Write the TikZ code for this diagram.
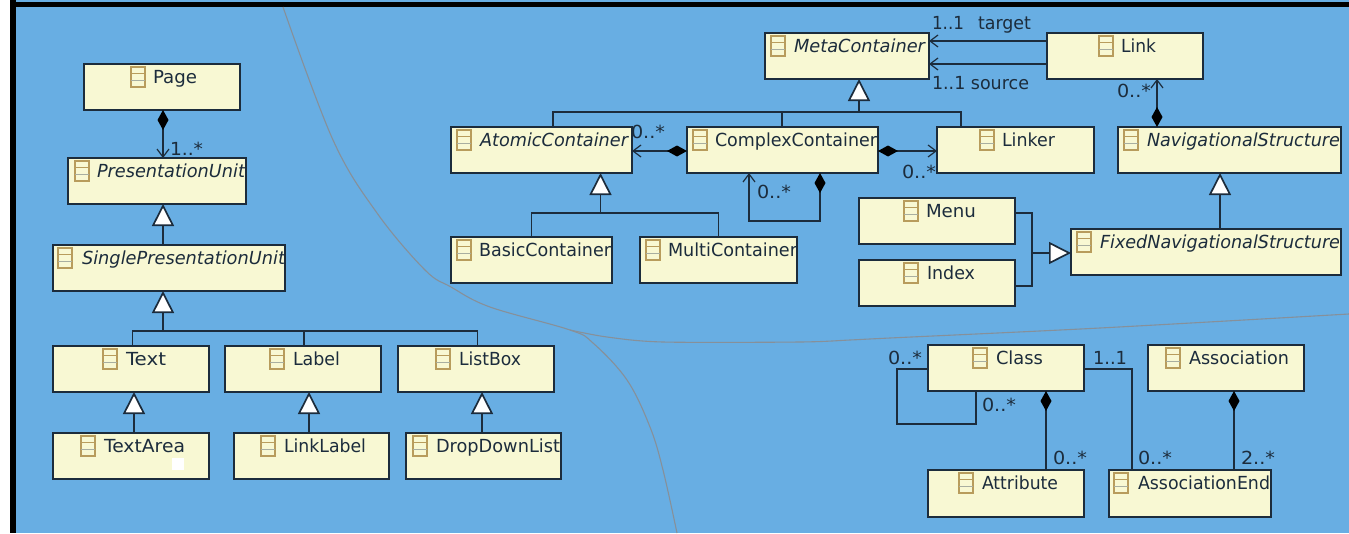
\documentclass[tikz,border=0pt]{standalone}
\usepackage{fontspec}
\usepackage{graphicx}
\setmainfont{DejaVu Sans}
\usetikzlibrary{arrows.meta}
\definecolor{bgblue}{HTML}{68AEE3}
\definecolor{boxfill}{HTML}{F8F8D3}
\definecolor{ink}{HTML}{1C2C3C}
\definecolor{icontan}{HTML}{B89C5C}
\definecolor{icongrey}{HTML}{A8AEA0}
\definecolor{curvegrey}{HTML}{86909A}
\tikzset{
  umlbox/.style={draw=ink,fill=boxfill,line width=1.7pt,inner sep=0pt,outer sep=0pt},
  umltext/.style={anchor=base west,inner sep=0pt,outer sep=0pt,text=ink,font=\fontsize{18}{18}\selectfont},
  mult/.style={anchor=base west,inner sep=0pt,outer sep=0pt,text=ink,font=\fontsize{18}{18}\selectfont},
  conn/.style={draw=ink,line width=1.7pt},
  gen/.style={conn,-{Triangle[length=22pt,width=22pt,fill=white]}},
  openend/.style={conn,-{Straight Barb[length=8pt,width=12pt,line width=1.2pt]}},
  comp/.style={conn,{Diamond[length=20pt,width=11pt,color=black]}-},
  compopen/.style={conn,{Diamond[length=20pt,width=11pt,color=black]}-{Straight Barb[length=8pt,width=12pt,line width=1.2pt]}},
  region/.style={draw=curvegrey,line width=1.1pt},
}
% name, x1, y1, x2, y2, icon x, text x1, text x2, text
\newcommand{\classbox}[9]{%
  \pgfmathsetmacro{\bw}{#4-#2}\pgfmathsetmacro{\bh}{#5-#3}%
  \pgfmathsetmacro{\cx}{(#2+#4)/2}\pgfmathsetmacro{\cy}{(#3+#5)/2}%
  \pgfmathsetmacro{\tw}{#8-#7}\pgfmathsetmacro{\by}{#3+19}%
  \node[umlbox,minimum width=\bw pt,minimum height=\bh pt] (#1) at (\cx,\cy) {};
  \pgfmathsetmacro{\ia}{#3+3}\pgfmathsetmacro{\ib}{#3+23}\pgfmathsetmacro{\ix}{#6+14}%
  \pgfmathsetmacro{\ic}{#3+9.5}\pgfmathsetmacro{\id}{#3+16.5}%
  \draw[icontan,line width=1.1pt] (#6,\ia) rectangle (\ix,\ib) (#6,\ic) -- (\ix,\ic);
  \draw[icongrey,line width=1.1pt] (#6,\id) -- (\ix,\id);
  \node[umltext] (#1-t) at (#7,\by) {\resizebox{\tw pt}{\height}{#9}};
}
\begin{document}
\begin{tikzpicture}[x=1pt,y=-1pt]
\useasboundingbox (0,0) rectangle (1349,533);
\fill[white] (0,0) rectangle (1349,533);
\fill[bgblue] (10,0) rectangle (1349,533);
\fill[black] (10,0) rectangle (16,533);
\fill[black] (10,2) rectangle (1349,7);
% region curves
\draw[region] plot[smooth,tension=0.6] coordinates {(283,7) (333,140) (377,213) (425,270) (451,287) (490,307) (570,330) (593,343) (627,380) (650,427) (663,470) (677,533)};
\draw[region] plot[smooth,tension=0.5] coordinates {(570,330) (607,337) (663,342) (800,342) (850,340) (890,338) (1100,328) (1349,314)};
% multiplicities
\node[mult] (m1) at (170,155) {\resizebox{33pt}{\height}{1..*}};
\node[mult] (m2) at (631,138) {\resizebox{34pt}{\height}{0..*}};
\node[mult] (m3) at (757,198) {\resizebox{34pt}{\height}{0..*}};
\node[mult] (m4) at (902,178) {\resizebox{34pt}{\height}{0..*}};
\node[mult] (m5) at (932,29) {\resizebox{32pt}{\height}{1..1}};
\node[mult] (m6) at (978,29) {\resizebox{53pt}{\height}{target}};
\node[mult] (m7) at (932,89) {\resizebox{97pt}{\height}{1..1 source}};
\node[mult] (m8) at (1117,97) {\resizebox{34pt}{\height}{0..*}};
\node[mult] (m9) at (888,364) {\resizebox{34pt}{\height}{0..*}};
\node[mult] (m10) at (982,411) {\resizebox{34pt}{\height}{0..*}};
\node[mult] (m11) at (1093,364) {\resizebox{34pt}{\height}{1..1}};
\node[mult] (m12) at (1053,464) {\resizebox{34pt}{\height}{0..*}};
\node[mult] (m13) at (1138,464) {\resizebox{34pt}{\height}{0..*}};
\node[mult] (m14) at (1241,464) {\resizebox{34pt}{\height}{2..*}};
% classes
\classbox{page}{84}{64}{240}{110}{131}{153}{197}{Page}
\classbox{pu}{68}{158}{246}{204}{75}{97}{245}{\itshape PresentationUnit}
\classbox{spu}{53}{245}{285}{291}{58}{82}{285}{\itshape SinglePresentationUnit}
\classbox{text}{53}{346}{209}{392}{103}{126}{166}{Text}
\classbox{label}{225}{346}{381}{392}{270}{293}{340}{Label}
\classbox{listbox}{398}{346}{554}{392}{436}{459}{521}{ListBox}
\classbox{textarea}{53}{433}{209}{479}{81}{104}{185}{TextArea}
\classbox{linklabel}{234}{433}{389}{479}{261}{284}{366}{LinkLabel}
\classbox{dropdown}{406}{433}{561}{479}{413}{436}{560}{DropDownList}
\classbox{meta}{765}{33}{929}{79}{771}{794}{925}{\itshape MetaContainer}
\classbox{link}{1047}{33}{1203}{79}{1099}{1121}{1156}{Link}
\classbox{atomic}{451}{127}{632}{173}{457}{480}{628}{\itshape AtomicContainer}
\classbox{complex}{687}{127}{878}{173}{693}{715}{877}{ComplexContainer}
\classbox{linker}{937}{127}{1094}{173}{980}{1002}{1055}{Linker}
\classbox{nav}{1118}{127}{1341}{173}{1124}{1147}{1340}{\itshape NavigationalStructure}
\classbox{basic}{451}{237}{612}{283}{457}{479}{611}{BasicContainer}
\classbox{multi}{640}{237}{797}{283}{646}{668}{797}{MultiContainer}
\classbox{menu}{859}{198}{1015}{244}{904}{926}{976}{Menu}
\classbox{index}{859}{260}{1015}{306}{904}{927}{975}{Index}
\classbox{fixed}{1071}{229}{1341}{275}{1077}{1100}{1340}{\itshape FixedNavigationalStructure}
\classbox{class}{928}{345}{1084}{391}{973}{996}{1043}{Class}
\classbox{assoc}{1148}{345}{1304}{391}{1166}{1189}{1289}{Association}
\classbox{attr}{928}{470}{1084}{517}{959}{982}{1058}{Attribute}
\classbox{assocend}{1109}{470}{1271}{517}{1114}{1138}{1270}{AssociationEnd}
\fill[white] (172,458) rectangle (184,470);
% left tree
\draw[compopen] ([xshift=1pt]page.south) -- ([xshift=1pt]page.south |- pu.north);
\draw[gen] ([xshift=-6pt]spu.north) -- ([xshift=-6pt]spu.north |- pu.south);
\coordinate (busS) at (163,331);
\draw[gen] (busS) -- (busS |- spu.south);
\draw[conn] ([xshift=1.5pt]text.north) |- (busS);
\draw[conn] ([xshift=1pt]label.north) |- (busS);
\draw[conn] ([xshift=1.5pt]listbox.north) |- (busS);
\draw[gen] ([xshift=3pt]text.north |- textarea.north) -- ([xshift=3pt]text.south);
\draw[gen] ([xshift=6pt]label.south |- linklabel.north) -- ([xshift=6pt]label.south);
\draw[gen] ([xshift=6pt]listbox.south |- dropdown.north) -- ([xshift=6pt]listbox.south);
% container tree
\coordinate (busM) at (859,112);
\draw[gen] (busM) -- (busM |- meta.south);
\draw[conn] ([xshift=11.5pt]atomic.north) |- (busM);
\draw[conn] ([xshift=-0.5pt]complex.north) |- (busM);
\draw[conn] ([xshift=-54.5pt]linker.north) |- (busM);
\coordinate (busA) at (600.5,213);
\draw[gen] (busA) -- (busA |- atomic.south);
\draw[conn] (basic.north) |- (busA);
\draw[conn] (multi.north) |- (busA);
\draw[compopen] ([yshift=-1pt]complex.west) -- ([yshift=-1pt]complex.west -| atomic.east);
\draw[compopen] ([yshift=-1pt]complex.east) -- ([yshift=-1pt]complex.east -| linker.west);
\coordinate (loopA) at (820,221);
\coordinate (loopB) at (749,221);
\draw[compopen] (loopA |- complex.south) -- (loopA) -- (loopB) -- (loopB |- complex.south);
% link
\draw[openend] ([yshift=15pt]link.west) -- ([yshift=15pt]link.west -| meta.east);
\draw[openend] ([yshift=-8pt]link.west) -- ([yshift=-8pt]link.west -| meta.east);
\draw[compopen] ([xshift=-72.5pt]nav.north) -- ([xshift=-72.5pt]nav.north |- link.south);
% navigation
\draw[gen] ([xshift=14pt]fixed.north) -- ([xshift=14pt]fixed.north |- nav.south);
\coordinate (busN) at (1032,253);
\draw[conn] ([yshift=8pt]menu.east) -| (busN);
\draw[conn] ([yshift=-3pt]index.east) -| (busN);
\draw[gen] (busN) -- (busN -| fixed.west);
% class metamodel
\coordinate (selfA) at (897,424);
\coordinate (selfB) at (976,424);
\draw[conn] ([yshift=-1pt]class.west) -| (selfA) -- (selfB) -- (selfB |- class.south);
\draw[comp] ([xshift=40pt]attr.north |- class.south) -- ([xshift=40pt]attr.north);
\coordinate (endA) at (1132,369);
\draw[conn] (endA -| class.east) -- (endA) -- (endA |- assocend.north);
\draw[comp] ([xshift=8pt]assoc.south) -- ([xshift=8pt]assoc.south |- assocend.north);
\end{tikzpicture}
\end{document}
